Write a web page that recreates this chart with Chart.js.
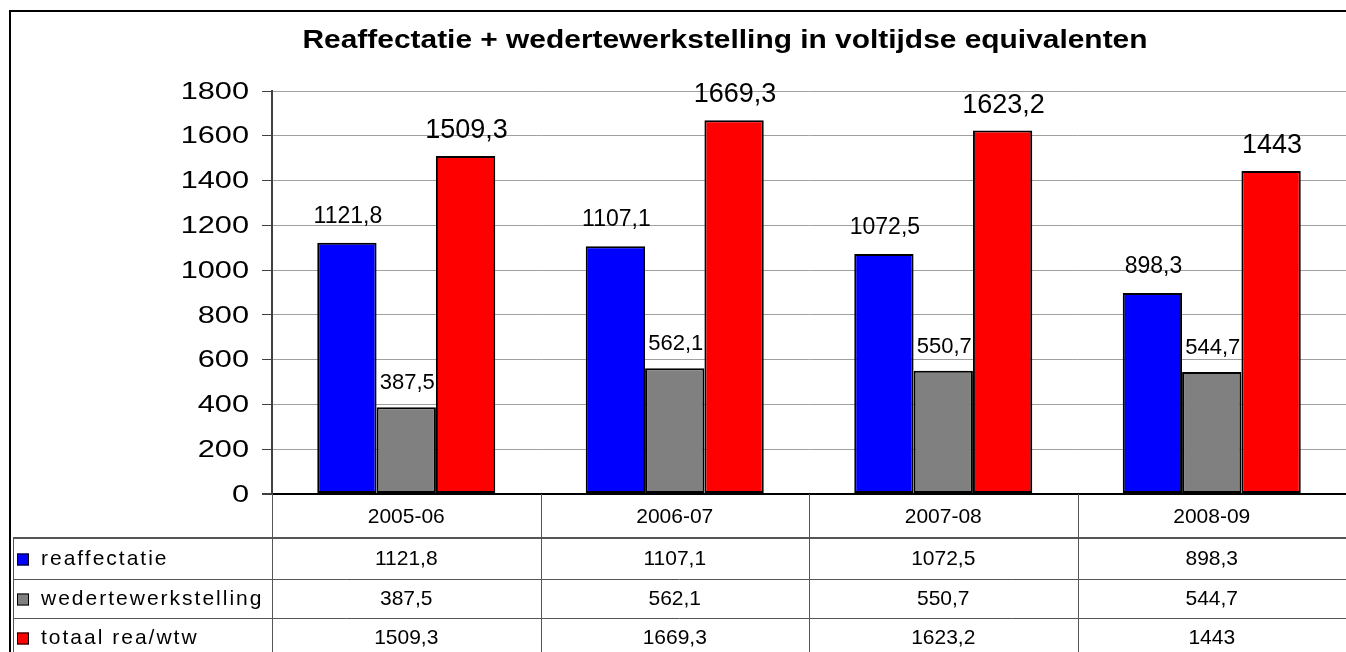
<!DOCTYPE html>
<html>
<head>
<meta charset="utf-8">
<script src="https://cdn.jsdelivr.net/npm/chart.js@4.4.1/dist/chart.umd.min.js"></script>
<style>
  html, body { margin: 0; padding: 0; background: #fff; }
  #wrap { width: 1346px; height: 652px; position: relative; }
</style>
</head>
<body>
<div id="wrap"><canvas id="c"></canvas></div>
<script>
// ---- data ----
const titleText = "Reaffectatie + wedertewerkstelling in voltijdse equivalenten";
const categories = ["2005-06", "2006-07", "2007-08", "2008-09"];
const seriesNames = ["reaffectatie", "wedertewerkstelling", "totaal rea/wtw"];
const reaffectatie = [1121.8, 1107.1, 1072.5, 898.3];
const wedertewerkstelling = [387.5, 562.1, 550.7, 544.7];
const totaal = [1509.3, 1669.3, 1623.2, 1443];
const yTicks = [0, 200, 400, 600, 800, 1000, 1200, 1400, 1600, 1800];
const seriesColors = ["#0000FF", "#808080", "#FF0000"];

const FONT = '"Liberation Sans", Arial, sans-serif';
const fmt = v => String(v).replace('.', ',');

function stretchedText(ctx, text, x, y, sx) {
  ctx.save();
  ctx.translate(x, y);
  ctx.scale(sx, 1);
  ctx.fillText(text, 0, 0);
  ctx.restore();
}

const tablePlugin = {
  id: 'tablePlugin',
  afterDraw(chart) {
    const ctx = chart.ctx;
    const ca = chart.chartArea;
    const xs = chart.scales.x;
    const ys = chart.scales.y;
    ctx.save();

    // outer border
    ctx.strokeStyle = '#000';
    ctx.lineWidth = 2;
    ctx.strokeRect(10, 11, 1346, 660);

    // title
    ctx.fillStyle = '#000';
    ctx.font = 'bold 26px ' + FONT;
    ctx.textAlign = 'center';
    ctx.textBaseline = 'alphabetic';
    stretchedText(ctx, titleText, 725, 48, 1.15);

    // y tick labels
    ctx.font = '24px ' + FONT;
    ctx.textAlign = 'right';
    ctx.textBaseline = 'middle';
    yTicks.forEach(v => {
      stretchedText(ctx, String(v), 249, ys.getPixelForValue(v) + 1, 1.28);
    });

    // data labels
    const labelSpec = [
      { font: '23px ' + FONT, off: 20 },
      { font: '22px ' + FONT, off: 18 },
      { font: '27px ' + FONT, off: 18 }
    ];
    chart.data.datasets.forEach((ds, di) => {
      const meta = chart.getDatasetMeta(di);
      ctx.font = labelSpec[di].font;
      ctx.textAlign = 'center';
      ctx.textBaseline = 'alphabetic';
      meta.data.forEach((bar, i) => {
        ctx.fillText(fmt(ds.data[i]), bar.x + 1, bar.y - labelSpec[di].off);
      });
    });

    // data table
    const y0 = ca.bottom;
    const rowYs = [y0, y0 + 44, y0 + 85, y0 + 124, y0 + 163];
    const half = (xs.getPixelForValue(1) - xs.getPixelForValue(0)) / 2;
    const bounds = [ca.left];
    categories.forEach((c, i) => bounds.push(xs.getPixelForValue(i) + half));

    ctx.strokeStyle = '#555';
    ctx.lineWidth = 1;
    bounds.forEach((bx, i) => {
      if (i === bounds.length - 1) return;
      ctx.beginPath();
      ctx.moveTo(Math.round(bx) + 0.5, y0);
      ctx.lineTo(Math.round(bx) + 0.5, 652);
      ctx.stroke();
    });
    ctx.beginPath();
    ctx.moveTo(13.5, rowYs[1]);
    ctx.lineTo(13.5, 652);
    ctx.stroke();
    for (let r = 1; r <= 3; r++) {
      ctx.lineWidth = r === 1 ? 2 : 1;
      ctx.beginPath();
      const yy = r === 1 ? rowYs[r] : Math.round(rowYs[r]) + 0.5;
      ctx.moveTo(13, yy);
      ctx.lineTo(1346, yy);
      ctx.stroke();
    }

    // category row
    ctx.fillStyle = '#000';
    ctx.font = '21px ' + FONT;
    ctx.textAlign = 'center';
    ctx.textBaseline = 'middle';
    categories.forEach((c, i) => {
      ctx.fillText(c, xs.getPixelForValue(i), (rowYs[0] + rowYs[1]) / 2 + 1);
    });

    // series rows
    const allSeries = [reaffectatie, wedertewerkstelling, totaal];
    allSeries.forEach((vals, r) => {
      const cy = (rowYs[r + 1] + rowYs[r + 2]) / 2 + 1;
      ctx.fillStyle = seriesColors[r];
      ctx.fillRect(17, cy - 6, 12, 12);
      ctx.strokeStyle = '#000';
      ctx.lineWidth = 1;
      ctx.strokeRect(17.5, cy - 5.5, 11, 11);
      ctx.fillStyle = '#000';
      ctx.font = '21px ' + FONT;
      ctx.textAlign = 'left';
      ctx.letterSpacing = '2px';
      ctx.fillText(seriesNames[r], 41, cy);
      ctx.letterSpacing = '0px';
      ctx.textAlign = 'center';
      vals.forEach((v, i) => {
        ctx.fillText(fmt(v), xs.getPixelForValue(i), cy);
      });
    });

    ctx.restore();
  }
};

new Chart(document.getElementById('c'), {
  type: 'bar',
  data: {
    labels: categories,
    datasets: [
      { label: seriesNames[0], data: reaffectatie, backgroundColor: seriesColors[0] },
      { label: seriesNames[1], data: wedertewerkstelling, backgroundColor: seriesColors[1] },
      { label: seriesNames[2], data: totaal, backgroundColor: seriesColors[2] }
    ].map(d => Object.assign(d, {
      borderColor: '#000', borderWidth: 2, borderSkipped: false,
      categoryPercentage: 0.663, barPercentage: 1
    }))
  },
  options: {
    responsive: true,
    maintainAspectRatio: false,
    devicePixelRatio: 1,
    animation: false,
    layout: { padding: { left: 0, right: 0, top: 91, bottom: 0 } },
    plugins: { legend: { display: false }, title: { display: false }, tooltip: { enabled: false } },
    scales: {
      x: {
        ticks: { display: false },
        grid: { display: false },
        border: { display: false },
        afterFit: s => { s.height = 158; }
      },
      y: {
        min: 0, max: 1800,
        ticks: { display: false, stepSize: 200 },
        grid: {
          color: c => c.tick && c.tick.value === 0 ? '#000' : '#a0a0a0',
          lineWidth: c => c.tick && c.tick.value === 0 ? 2 : 1,
          tickColor: '#404040',
          tickLength: 10,
          drawTicks: true
        },
        border: { color: '#404040', width: 2 },
        afterFit: s => { s.width = 272; }
      }
    }
  },
  plugins: [tablePlugin]
});
</script>
</body>
</html>
